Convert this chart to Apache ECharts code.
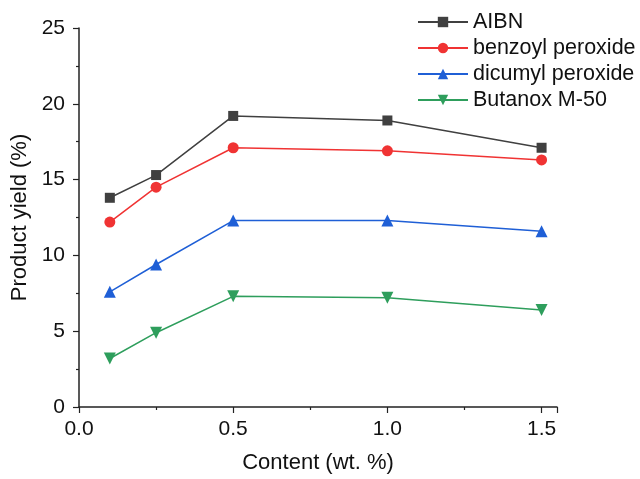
<!DOCTYPE html>
<html>
<head>
<meta charset="utf-8">
<script src="https://cdn.jsdelivr.net/npm/echarts@6/dist/echarts.min.js"></script>
<style>html,body{margin:0;padding:0;background:#fff;}#c{width:640px;height:479px;}</style>
</head>
<body>
<div id="c"></div>
<script>
const contents = [0.1, 0.25, 0.5, 1.0, 1.5];
const seriesNames = ['AIBN', 'benzoyl peroxide', 'dicumyl peroxide', 'Butanox M-50'];
const aibn = [13.8, 15.3, 19.2, 18.9, 17.1];
const benzoyl = [12.2, 14.5, 17.1, 16.9, 16.3];
const dicumyl = [7.6, 9.4, 12.3, 12.3, 11.6];
const butanox = [3.2, 4.9, 7.3, 7.2, 6.4];
const colors = ['#404040', '#f03333', '#1f5fd6', '#2e9e5c'];
const symbols = ['rect', 'circle', 'triangle', 'path://M0,0 L10,0 L5,9 Z'];
const sizes = [10, 11, 12, 12];
const values = [aibn, benzoyl, dicumyl, butanox];

const font = 'Liberation Sans, Arial, sans-serif';
const chart = echarts.init(document.getElementById('c'));
chart.setOption({
  animation: false,
  backgroundColor: '#fff',
  grid: {left: 79, right: 83, top: 28, bottom: 71},
  legend: {
    orient: 'vertical', left: 412, top: 6,
    itemWidth: 50, itemHeight: 13, itemGap: 4,
    textStyle: {fontFamily: font, fontSize: 21.5, color: '#111'},
    data: seriesNames
  },
  xAxis: {
    type: 'value', min: 0, max: 1.55, interval: 0.5,
    name: 'Content (wt. %)', nameLocation: 'middle', nameGap: 45,
    nameTextStyle: {fontFamily: font, fontSize: 22, color: '#111'},
    axisLine: {show: true, lineStyle: {color: '#222', width: 1.5}},
    axisTick: {show: true, inside: false, length: 6, lineStyle: {color: '#222', width: 1.2}},
    minorTick: {show: true, splitNumber: 2, length: 3, lineStyle: {color: '#222', width: 1.2}},
    axisLabel: {fontFamily: font, fontSize: 21, color: '#111', margin: 12, showMaxLabel: false,
      formatter: v => v.toFixed(1)},
    splitLine: {show: false}
  },
  yAxis: {
    type: 'value', min: 0, max: 25, interval: 5,
    name: 'Product yield (%)', nameLocation: 'middle', nameGap: 42,
    nameTextStyle: {fontFamily: font, fontSize: 22, color: '#111'},
    axisLine: {show: true, lineStyle: {color: '#222', width: 1.5}},
    axisTick: {show: true, inside: false, length: 6, lineStyle: {color: '#222', width: 1.2}},
    minorTick: {show: true, splitNumber: 2, length: 3, lineStyle: {color: '#222', width: 1.2}},
    axisLabel: {fontFamily: font, fontSize: 21, color: '#111', margin: 14},
    splitLine: {show: false}
  },
  series: seriesNames.map((n, i) => ({
    name: n, type: 'line',
    data: contents.map((x, j) => [x, values[i][j]]),
    symbol: symbols[i], symbolSize: sizes[i],
    itemStyle: {color: colors[i]},
    lineStyle: {color: colors[i], width: 1.5}
  }))
});
</script>
</body>
</html>
